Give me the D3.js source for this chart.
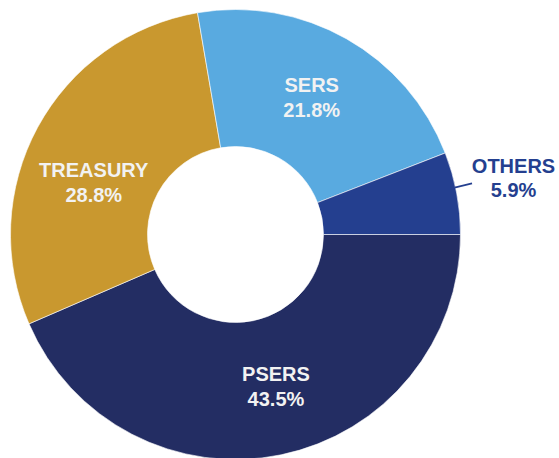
<!DOCTYPE html>
<html>
<head>
<meta charset="utf-8">
<script src="https://cdn.jsdelivr.net/npm/d3@7"></script>
<style>
  html, body { margin: 0; padding: 0; background: #fff; }
  svg { display: block; }
</style>
</head>
<body>
<svg id="chart" width="559" height="458"></svg>
<script>
const categories = ["PSERS", "TREASURY", "SERS", "OTHERS"];
const values = [43.5, 28.8, 21.8, 5.9];
const valueLabels = ["43.5%", "28.8%", "21.8%", "5.9%"];
const colors = ["#232D63", "#C9982F", "#59AAE0", "#243F8F"];

const W = 559, H = 458;
const cx = 235.5, cy = 234.5, R = 225, r0 = 88;

const svg = d3.select("#chart");
const g = svg.append("g").attr("transform", `translate(${cx},${cy})`);

const pie = d3.pie().sort(null).value(d => d.v)
  .startAngle(Math.PI / 2).endAngle(Math.PI / 2 + 2 * Math.PI);
const data = categories.map((c, i) => ({ c, v: values[i], lab: valueLabels[i], col: colors[i] }));
const arcs = pie(data);

const arc = d3.arc().innerRadius(r0).outerRadius(R);
g.selectAll("path.slice").data(arcs).enter().append("path")
  .attr("class", "slice")
  .attr("d", arc)
  .attr("fill", d => d.data.col)
  .attr("stroke", "#ffffff")
  .attr("stroke-width", 0.6);

// label placement (layout only)
const angleShift = { PSERS: -0.052, TREASURY: -0.163, SERS: 0, OTHERS: 0 };
const labelR = { PSERS: 159.7, TREASURY: 150, SERS: 154.7 };
const inside = arcs.filter(d => d.data.c !== "OTHERS");
const lg = g.selectAll("g.lab").data(inside).enter().append("g").attr("class", "lab")
  .attr("transform", d => {
    const a = (d.startAngle + d.endAngle) / 2 + angleShift[d.data.c];
    const rr = labelR[d.data.c];
    const x = rr * Math.sin(a), y = -rr * Math.cos(a);
    return `translate(${x},${y})`;
  });
lg.append("text").attr("text-anchor", "middle").attr("y", -8)
  .attr("font-family", "Liberation Sans, Arial, sans-serif").attr("font-weight", "bold")
  .attr("font-size", 20).attr("fill", "#F2F2F2").text(d => d.data.c);
lg.append("text").attr("text-anchor", "middle").attr("y", 17)
  .attr("font-family", "Liberation Sans, Arial, sans-serif").attr("font-weight", "bold")
  .attr("font-size", 20).attr("fill", "#F2F2F2").text(d => d.data.lab);

// outside label for OTHERS
const oth = arcs.find(d => d.data.c === "OTHERS");
const oa = (oth.startAngle + oth.endAngle) / 2 - 0.025;
const p1 = [(R - 1) * Math.sin(oa), -(R - 1) * Math.cos(oa)];
const p2 = [(R + 17) * Math.sin(oa - 0.003), -(R + 17) * Math.cos(oa - 0.003)];
g.append("line").attr("x1", p1[0]).attr("y1", p1[1]).attr("x2", p2[0]).attr("y2", p2[1])
  .attr("stroke", oth.data.col).attr("stroke-width", 1.8);
const ox = p2[0] + 41.5, oy = p2[1];
g.append("text").attr("x", ox).attr("y", oy - 10.3).attr("text-anchor", "middle")
  .attr("font-family", "Liberation Sans, Arial, sans-serif").attr("font-weight", "bold")
  .attr("font-size", 20).attr("fill", oth.data.col).text(oth.data.c);
g.append("text").attr("x", ox).attr("y", oy + 13.4).attr("text-anchor", "middle")
  .attr("font-family", "Liberation Sans, Arial, sans-serif").attr("font-weight", "bold")
  .attr("font-size", 20).attr("fill", oth.data.col).text(oth.data.lab);
</script>
</body>
</html>
